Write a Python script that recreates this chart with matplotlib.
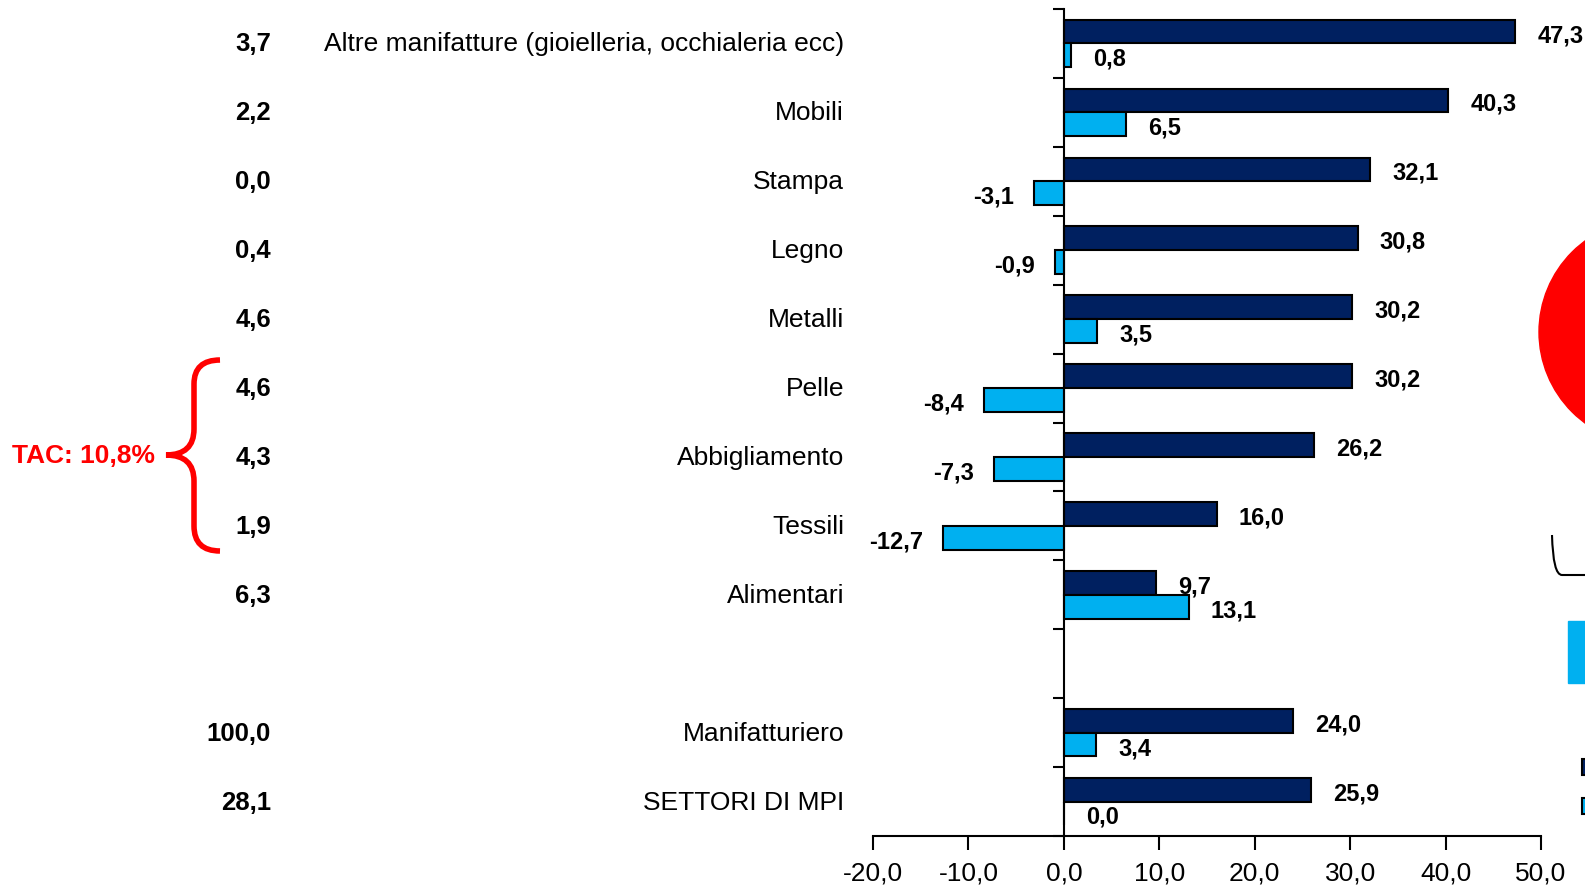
import matplotlib
matplotlib.use("Agg")
import matplotlib.pyplot as plt
from matplotlib.patches import Rectangle, Ellipse, PathPatch
from matplotlib.path import Path

plt.rcParams["font.family"] = ["Liberation Sans", "DejaVu Sans"]

# data
categorie = ["Altre manifatture (gioielleria, occhialeria ecc)", "Mobili", "Stampa",
             "Legno", "Metalli", "Pelle", "Abbigliamento", "Tessili", "Alimentari",
             "Manifatturiero", "SETTORI DI MPI"]
posizioni = [0, 1, 2, 3, 4, 5, 6, 7, 8, 10, 11]
quota = ["3,7", "2,2", "0,0", "0,4", "4,6", "4,6", "4,3", "1,9", "6,3", "100,0", "28,1"]
serie_scura = [47.3, 40.3, 32.1, 30.8, 30.2, 30.2, 26.2, 16.0, 9.7, 24.0, 25.9]
serie_chiara = [0.8, 6.5, -3.1, -0.9, 3.5, -8.4, -7.3, -12.7, 13.1, 3.4, 0.0]
tick_x = [-20, -10, 0, 10, 20, 30, 40, 50]
tac = "TAC: 10,8%"

W, H = 1585, 895
SCURO = "#002060"
CHIARO = "#00B0F0"


def fx(px):
    return px / W


def fy(py):
    return 1 - py / H


fig = plt.figure(figsize=(W / 100, H / 100), dpi=100)
ax = fig.add_axes([fx(873), fy(837), fx(1541) - fx(873), fy(10) - fy(837)])

h = 0.345
ax.barh([p - h / 2 for p in posizioni], serie_scura, height=h, color=SCURO,
        edgecolor="black", linewidth=1.5)
ax.barh([p + h / 2 for p in posizioni], serie_chiara, height=h, color=CHIARO,
        edgecolor="black", linewidth=1.5)

ax.set_xlim(-20, 50)
ax.set_ylim(11.5, -0.5)

for s in ["top", "right"]:
    ax.spines[s].set_visible(False)
ax.spines["left"].set_position(("data", 0))
ax.spines["left"].set_linewidth(1.5)
ax.spines["bottom"].set_linewidth(1.5)
ax.set_yticks([i - 0.5 for i in range(13)])
ax.set_yticklabels([])
ax.tick_params(axis="y", direction="out", length=8, width=1.5)
ax.set_xticks(tick_x)
ax.set_xticklabels([f"{v:.1f}".replace(".", ",") for v in tick_x], fontsize=19)
ax.tick_params(axis="x", direction="out", length=10, width=1.5, pad=8)


def etichetta(v, y):
    txt = f"{v:.1f}".replace(".", ",")
    if v < 0:
        ax.annotate(txt, (v, y), xytext=(-20, -3), textcoords="offset pixels",
                    ha="right", va="center", fontsize=17, fontweight="bold")
    else:
        ax.annotate(txt, (v, y), xytext=(22, -3), textcoords="offset pixels",
                    ha="left", va="center", fontsize=17, fontweight="bold")


for p, a, b in zip(posizioni, serie_scura, serie_chiara):
    etichetta(a, p - h / 2)
    etichetta(b, p + h / 2)

tr = ax.get_yaxis_transform()
x_cat = (844 - 873) / (1541 - 873)
x_num = (271 - 873) / (1541 - 873)
for p, c, q in zip(posizioni, categorie, quota):
    ax.text(x_cat, p, c, transform=tr, ha="right", va="center", fontsize=19, clip_on=False)
    ax.text(x_num, p, q, transform=tr, ha="right", va="center", fontsize=18.5,
            fontweight="bold", clip_on=False)

# parentesi graffa rossa
verts = [(220, 361), (194, 361), (194, 385), (194, 385),
         (194, 430), (194, 456), (166, 456),
         (194, 456), (194, 482),
         (194, 527), (194, 552), (220, 552)]
codes = [Path.MOVETO, Path.CURVE3, Path.CURVE3, Path.LINETO,
         Path.LINETO, Path.CURVE3, Path.CURVE3,
         Path.CURVE3, Path.CURVE3,
         Path.LINETO, Path.CURVE3, Path.CURVE3]
brace = Path([(fx(x), fy(y)) for x, y in verts], codes)
fig.patches.append(PathPatch(brace, transform=fig.transFigure, fill=False,
                             edgecolor="red", linewidth=4))
fig.text(fx(155), fy(456), tac, ha="right", va="center", color="red",
         fontsize=19, fontweight="bold")

# elementi tagliati sul bordo destro
fig.patches.append(Ellipse((fx(1652), fy(333)), 2 * 113 / W, 2 * 113 / H,
                           transform=fig.transFigure, color="red"))
curva = Path([(fx(1552), fy(536)), (fx(1553), fy(576)), (fx(1562), fy(576)),
              (fx(1585), fy(576))],
             [Path.MOVETO, Path.CURVE3, Path.CURVE3, Path.LINETO])
fig.patches.append(PathPatch(curva, transform=fig.transFigure, fill=False,
                             edgecolor="black", linewidth=1.5))
fig.patches.append(Rectangle((fx(1568), fy(684)), fx(30), 62 / H,
                             transform=fig.transFigure, color=CHIARO))
fig.patches.append(Rectangle((fx(1582), fy(776)), fx(20), 16 / H,
                             transform=fig.transFigure, facecolor=SCURO,
                             edgecolor="black", linewidth=1.5))
fig.patches.append(Rectangle((fx(1582), fy(815)), fx(20), 16 / H,
                             transform=fig.transFigure, facecolor=CHIARO,
                             edgecolor="black", linewidth=1.5))

fig.savefig("out.png", dpi=100)
